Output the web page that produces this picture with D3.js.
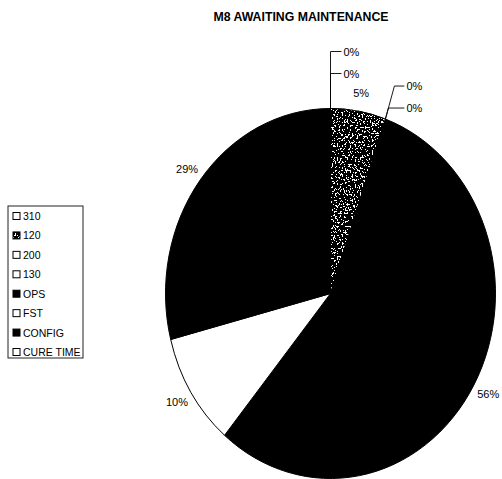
<!DOCTYPE html>
<html>
<head>
<meta charset="utf-8">
<script src="https://cdn.jsdelivr.net/npm/d3@7"></script>
<style>
  html, body { margin: 0; padding: 0; background: #fff; }
  svg { display: block; font-family: "Liberation Sans", Arial, Helvetica, sans-serif; }
</style>
</head>
<body>
<svg id="chart" width="502" height="479"></svg>
<script>
// Share of M8 aircraft awaiting maintenance, by reason (percent)
const categories = ["310", "120", "200", "130", "OPS", "FST", "CONFIG", "CURE TIME"];
const percents   = [0, 5.4, 0, 0, 55.7, 9.9, 29.0, 0];
const sliceFills = ["#fff", "stipple", "#fff", "#fff", "#000", "#fff", "#000", "#fff"];
const titleText  = "M8 AWAITING MAINTENANCE";

const W = 502, H = 479;
const cx = 330.5, cy = 293.5, rx = 165, ry = 185;

const svg = d3.select("#chart");
svg.append("rect").attr("width", W).attr("height", H).attr("fill", "#fff");

// speckled black/white texture used for the "120" slice
const defs = svg.append("defs");
const f = defs.append("filter").attr("id", "stipple")
  .attr("color-interpolation-filters", "sRGB")
  .attr("x", "-5%").attr("y", "-5%").attr("width", "110%").attr("height", "110%");
f.append("feTurbulence").attr("type", "fractalNoise").attr("baseFrequency", 0.6)
  .attr("numOctaves", 2).attr("seed", 7).attr("result", "noise");
f.append("feColorMatrix").attr("in", "noise").attr("type", "matrix")
  .attr("values", "1 0 0 0 0  1 0 0 0 0  1 0 0 0 0  0 0 0 0 1").attr("result", "gray");
const ct = f.append("feComponentTransfer").attr("in", "gray").attr("result", "bw");
const table = d3.range(20).map(i => (i < 12 ? 0 : 1)).join(" ");
["feFuncR", "feFuncG", "feFuncB"].forEach(n => ct.append(n).attr("type", "discrete").attr("tableValues", table));
f.append("feComposite").attr("in", "bw").attr("in2", "SourceGraphic").attr("operator", "in");

// title
svg.append("text")
  .attr("x", 301).attr("y", 21)
  .attr("text-anchor", "middle")
  .attr("font-size", 12.3).attr("font-weight", "bold")
  .attr("fill", "#000")
  .text(titleText);

// pie (drawn as a circle, stretched vertically into an ellipse)
const data = categories.map((c, i) => ({ cat: c, value: percents[i], fill: sliceFills[i] }));
const pie = d3.pie().sort(null).value(d => d.value).startAngle(0).endAngle(2 * Math.PI);
const arcs = pie(data);
const arc = d3.arc().innerRadius(0).outerRadius(rx);

const g = svg.append("g").attr("transform", `translate(${cx},${cy}) scale(1,${ry / rx})`);
g.selectAll("path.slice")
  .data(arcs.filter(d => d.value > 0))
  .join("path")
  .attr("class", "slice")
  .attr("d", arc)
  .attr("fill", d => d.data.fill === "stipple" ? "#000" : d.data.fill)
  .attr("filter", d => d.data.fill === "stipple" ? "url(#stipple)" : null)
  .attr("stroke", "#000")
  .attr("stroke-width", 1)
  .attr("vector-effect", "non-scaling-stroke");
// outline of the stippled slice on top of its texture
g.selectAll("path.edge")
  .data(arcs.filter(d => d.value > 0 && d.data.fill === "stipple"))
  .join("path")
  .attr("class", "edge")
  .attr("d", arc)
  .attr("fill", "none")
  .attr("stroke", "#000")
  .attr("stroke-width", 1)
  .attr("vector-effect", "non-scaling-stroke");

const edgePoint = (a, k = 1) => [cx + k * rx * Math.sin(a), cy - k * ry * Math.cos(a)];
const fmt = v => Math.round(v) + "%";

// labels for visible slices
svg.selectAll("text.val")
  .data(arcs.filter(d => d.value > 0))
  .join("text")
  .attr("class", "val")
  .each(function (d) {
    const p = edgePoint((d.startAngle + d.endAngle) / 2, 1.1);
    d3.select(this).attr("x", p[0]).attr("y", p[1]);
  })
  .attr("text-anchor", "middle")
  .attr("dominant-baseline", "central")
  .attr("font-size", 11)
  .attr("fill", "#000")
  .text(d => fmt(d.value));

// leader-line labels for empty slices
const zeros = arcs.filter(d => d.value === 0);
const topGroup = zeros.filter(d => d.startAngle < 1e-6 || d.startAngle > 2 * Math.PI - 1e-6);
const sideGroup = zeros.filter(d => !topGroup.includes(d));
const leaders = svg.append("g").attr("fill", "none").attr("stroke", "#000").attr("stroke-width", 0.9);

topGroup.forEach((d, i) => {
  const a = edgePoint(d.startAngle);
  const y = a[1] - 57 + i * 22;
  leaders.append("path").attr("d", `M${a[0]},${a[1]}V${y}H${a[0] + 11}`);
  svg.append("text").attr("x", a[0] + 13).attr("y", y)
    .attr("dominant-baseline", "central").attr("font-size", 11).text(fmt(d.value));
});
sideGroup.forEach((d, i) => {
  const a = edgePoint(d.startAngle);
  const dy = i === 0 ? 33 : 11;
  const ex = a[0] + 9 * dy / 33, ey = a[1] - dy;
  leaders.append("path").attr("d", `M${a[0]},${a[1]}L${ex},${ey}H${a[0] + 19}`);
  svg.append("text").attr("x", a[0] + 21).attr("y", ey)
    .attr("dominant-baseline", "central").attr("font-size", 11).text(fmt(d.value));
});

// legend
const lg = svg.append("g");
lg.append("rect").attr("x", 8).attr("y", 206).attr("width", 75).attr("height", 152)
  .attr("fill", "#fff").attr("stroke", "#222").attr("stroke-width", 1);
const rowY = d3.scalePoint().domain(categories).range([216, 352]);
categories.forEach((c, i) => {
  const y = rowY(c);
  const fill = sliceFills[i];
  lg.append("rect").attr("x", 13).attr("y", y - 3.5).attr("width", 7).attr("height", 7)
    .attr("fill", fill === "stipple" ? "#000" : fill)
    .attr("filter", fill === "stipple" ? "url(#stipple)" : null)
    .attr("stroke", fill === "stipple" ? "none" : "#000").attr("stroke-width", 1);
  if (fill === "stipple") {
    lg.append("rect").attr("x", 13).attr("y", y - 3.5).attr("width", 7).attr("height", 7)
      .attr("fill", "none").attr("stroke", "#000").attr("stroke-width", 1);
  }
  lg.append("text").attr("x", 23).attr("y", y)
    .attr("dominant-baseline", "central").attr("font-size", 10.5).attr("fill", "#000")
    .text(c);
});
</script>
</body>
</html>
